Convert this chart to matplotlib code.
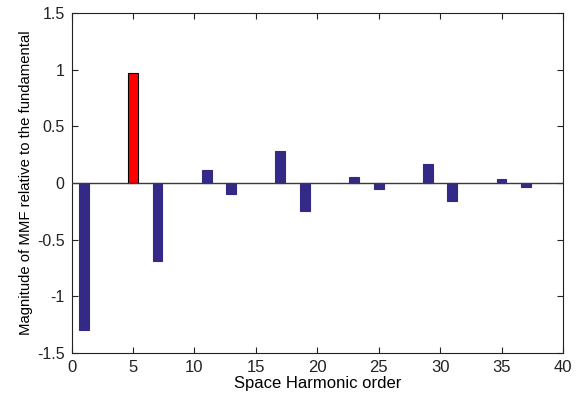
import matplotlib
matplotlib.use("Agg")
import matplotlib.pyplot as plt

plt.rcParams['font.family'] = ['Liberation Sans', 'DejaVu Sans']

# harmonic orders and MMF magnitudes (relative to fundamental)
orders = [1, 5, 7, 11, 13, 17, 19, 23, 25, 29, 31, 35, 37]
values = [-1.30, 0.97, -0.69, 0.115, -0.10, 0.28, -0.25,
          0.053, -0.053, 0.168, -0.16, 0.035, -0.035]
highlight = 5

fig = plt.figure(figsize=(5.81, 4.01), dpi=100)
ax = fig.add_axes([71.5 / 581, 1 - 353 / 401, (563 - 71.5) / 581, (353 - 13) / 401])

colors = ['#ff0000' if o == highlight else '#332a87' for o in orders]
edges = ['#000000' if o == highlight else '#332a87' for o in orders]
ax.bar(orders, values, width=0.8, color=colors, edgecolor=edges, linewidth=0.8, zorder=2)
ax.axhline(0, color='#3a3a3a', linewidth=1.0, zorder=3)

ax.set_xlim(0, 40)
ax.set_ylim(-1.5, 1.5)
ax.set_xticks(range(0, 41, 5))
ax.set_yticks([-1.5, -1, -0.5, 0, 0.5, 1, 1.5])
ax.set_yticklabels(['-1.5', '-1', '-0.5', '0', '0.5', '1', '1.5'])
ax.tick_params(direction='in', top=True, right=True, length=4, width=0.8, colors='#222222')
ax.tick_params(axis='x', labelsize=12, pad=5)
ax.tick_params(axis='y', labelsize=11.5, pad=5)
for s in ax.spines.values():
    s.set_linewidth(0.8)
    s.set_color('#222222')

ax.set_xlabel("Space Harmonic order", fontsize=12, labelpad=1)
ax.set_ylabel("Magnitude of MMF relative to the fundamental", fontsize=10.7, labelpad=3)

fig.savefig("out.png", dpi=100)
